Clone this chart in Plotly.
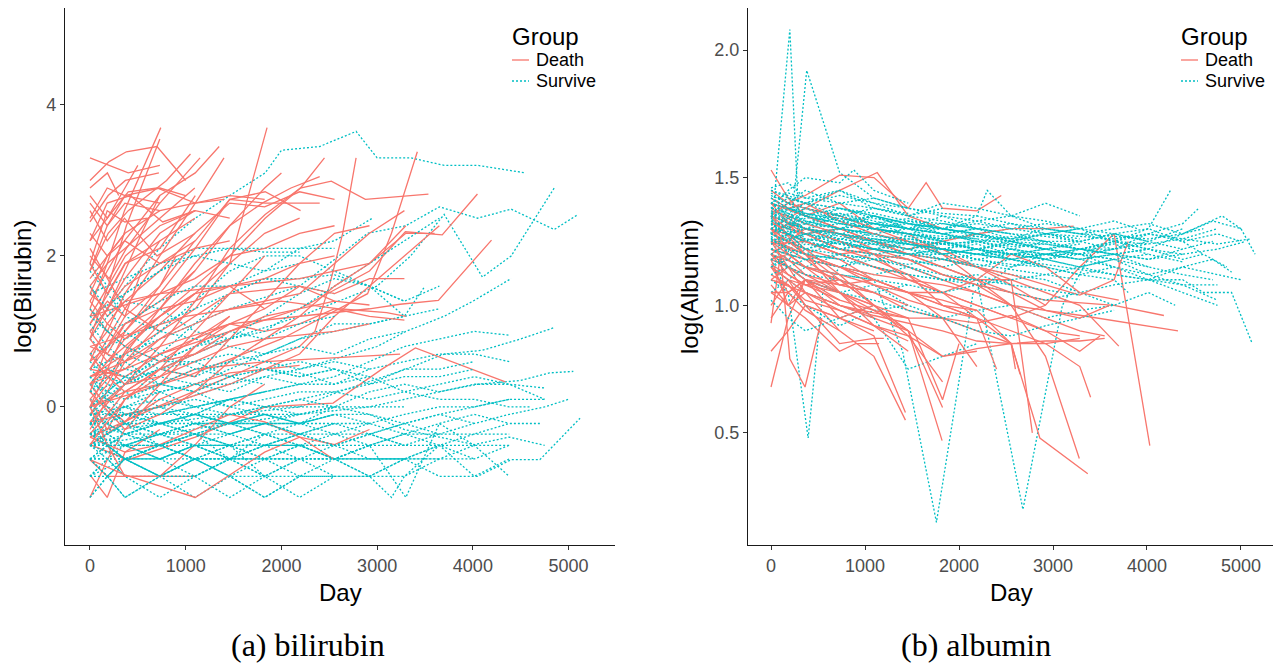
import plotly.graph_objects as go
from itertools import zip_longest

# ---------------- data (day, log value) per subject ----------------
bili_death = [
    [(0,3.3),(190,3.2),(400,3.1),(730,3.2)],
    [(0,3.0),(200,3.25),(380,3.38),(700,3.45),(1000,3.0)],
    [(0,2.45),(190,2.8),(370,3.0),(720,3.1)],
    [(0,2.8),(180,2.5),(400,2.85),(700,2.9),(1100,2.7),(1400,2.75)],
    [(0,1.3),(180,1.9),(360,2.6),(740,3.7)],
    [(0,0.9),(190,1.6),(380,2.4),(730,3.55)],
    [(0,2.2),(180,2.7),(420,2.8),(760,2.45),(1100,2.6)],
    [(0,1.8),(190,2.3),(400,2.6),(800,3.0),(1050,3.35)],
    [(0,2.0),(200,1.7),(380,2.1),(730,2.7),(1150,3.3)],
    [(0,1.4),(180,1.8),(360,2.2),(730,2.8),(1100,3.1),(1350,3.45)],
    [(0,0.5),(180,0.9),(365,1.3),(730,2.0),(1100,2.7),(1400,3.3)],
    [(0,1.1),(190,1.5),(370,1.9),(730,2.1),(1100,2.8)],
    [(0,2.6),(180,2.2),(360,2.5),(700,2.0),(1100,2.3)],
    [(0,1.6),(180,1.2),(365,1.4),(730,1.8),(1095,2.3),(1460,2.7),(1825,2.65),(2190,2.85),(2555,2.75)],
    [(0,0.3),(180,0.6),(365,0.9),(730,1.3),(1095,1.8),(1460,2.4),(1800,2.7),(2100,2.9),(2400,3.05)],
    [(0,0.1),(200,0.4),(400,0.8),(730,1.2),(1100,1.6),(1460,2.0),(1830,2.5),(2200,2.9),(2450,3.3)],
    [(0,1.0),(180,1.3),(365,1.6),(730,1.9),(1100,2.2),(1460,2.75),(1830,2.7),(2200,2.7),(2400,2.7)],
    [(0,0.4),(365,0.7),(730,1.0),(1100,1.3),(1460,1.9),(1850,3.7)],
    [(0,0.6),(365,1.0),(730,1.5),(1100,2.1),(1460,2.75),(1830,2.85),(2200,2.6)],
    [(0,-0.2),(365,0.3),(730,0.8),(1100,1.4),(1460,2.1),(1830,2.55),(2197,2.9),(2521,2.99),(2877,2.75),(3536,2.82)],
    [(0,-0.4),(700,0.0),(1460,0.4),(2190,0.8),(2350,1.0),(2500,1.6),(2640,2.3),(2780,3.3)],
    [(0,0.0),(1000,0.4),(2000,0.9),(2900,1.5),(3150,2.3),(3420,3.38)],
    [(0,0.3),(730,0.7),(1460,1.0),(2190,1.3),(2920,1.8),(3295,2.32),(3680,2.28),(4048,2.82)],
    [(0,0.4),(730,0.8),(1460,1.1),(2190,1.2),(2920,1.3),(3240,1.36),(3640,1.41),(4195,2.21)],
    [(0,-0.5),(400,-0.7),(1100,-0.4),(1830,0.0),(2540,0.05),(3050,0.5),(3400,0.78),(4340,0.33)],
    [(0,1.2),(730,1.5),(1460,1.6),(2190,1.7),(2920,1.9),(3300,2.3),(3600,2.3)],
    [(0,0.8),(1000,1.2),(2000,1.4),(2600,1.3),(3100,1.25),(3300,1.2)],
    [(0,0.0),(365,0.2),(730,0.3),(1100,0.5),(1830,0.6),(2555,0.65),(3240,0.7)],
    [(0,-0.9),(180,-1.2),(365,-0.6),(730,-0.3)],
    [(0,-1.2),(180,-0.7),(365,-0.3),(730,0.2)],
    [(0,0.7),(180,1.0),(365,1.5),(730,2.2)],
    [(0,2.1),(180,1.7),(365,1.3),(730,1.0)],
    [(0,1.8),(180,2.4),(365,2.8),(730,2.9),(1000,2.8)],
    [(0,1.5),(180,1.3),(365,1.7),(730,2.3),(1095,2.6)],
    [(0,0.3),(180,0.0),(365,-0.2),(730,0.3),(1100,0.8),(1460,1.2)],
    [(0,0.9),(180,0.6),(365,0.8),(730,1.2),(1095,1.5),(1460,1.6),(1825,1.3),(2190,1.6),(2555,1.4)],
    [(0,0.5),(365,0.4),(730,0.7),(1095,0.9),(1460,1.1),(1825,1.0),(2190,1.1),(2555,1.3),(2920,1.2),(3285,1.15)],
    [(0,-0.5),(365,-0.2),(730,0.1),(1095,0.3),(1460,0.45),(1825,0.5),(2190,0.55)],
    [(0,1.2),(190,1.6),(370,2.0),(730,2.4),(1100,2.6),(1460,2.5)],
    [(0,-0.7),(180,-0.92),(365,-0.92),(730,-0.92),(1100,-0.5),(1460,0.0),(1825,0.3)],
    [(0,0.1),(180,-0.3),(365,0.1),(730,0.5),(1095,0.4),(1460,0.9),(1825,1.4),(2190,1.9),(2555,2.3),(2920,2.4)],
    [(0,-0.2),(730,0.0),(1460,0.3),(2190,0.7),(2555,1.2),(2920,1.6),(3285,2.0),(3650,2.4)],
    [(0,0.4),(365,0.5),(730,0.9),(1095,1.2),(1460,1.5),(1825,1.55),(2190,1.6),(2555,1.5),(2920,1.7),(3285,1.7)],
    [(0,1.7),(180,2.0),(365,2.3),(730,2.6),(1095,2.7),(1460,2.8),(1825,2.75)],
    [(0,2.5),(180,2.9),(365,2.8),(730,2.7)],
    [(0,1.9),(180,2.6),(365,2.45),(600,2.5)],
    [(0,0.0),(180,0.5),(365,1.0),(730,1.6),(1095,2.2)],
    [(0,-0.1),(180,0.2),(365,0.6),(730,1.1),(1095,1.5),(1460,1.9),(1825,2.3),(2190,2.5)],
    [(0,0.2),(365,-0.3),(730,-0.1),(1095,0.2),(1460,0.6),(1825,0.9),(2190,1.2),(2555,1.6),(2920,1.9),(3300,2.4)],
    [(0,-0.4),(365,-0.6),(730,-0.5),(1095,-0.3),(1460,-0.1),(1825,-0.2),(2190,-0.4),(2555,-0.7)],
    [(0,-0.7),(365,-0.9),(1100,-1.2),(1460,-0.9),(1825,-0.6),(2190,-0.4),(2555,-0.5),(2920,-0.3)],
    [(0,1.0),(180,0.7),(365,1.1),(730,1.4),(1095,1.8)],
    [(0,2.3),(180,2.0),(365,2.2),(730,1.9),(1095,2.1),(1460,2.2)],
    [(0,0.6),(180,1.1),(365,1.4),(730,1.5),(1095,1.7),(1460,2.0),(1825,2.1),(2190,2.3),(2555,2.4)],
    [(0,0.8),(365,0.6),(730,0.9),(1095,1.1),(1460,1.3),(1825,1.4),(2190,1.5),(2555,1.9),(2920,2.3),(3285,2.6)],
    [(0,1.3),(180,1.0),(365,0.8),(730,0.6),(1095,0.9),(1460,1.2)],
    [(0,-0.3),(180,0.1),(365,0.3),(730,0.4),(1095,0.6),(1460,0.8),(1825,0.9),(2190,0.95),(2555,1.0),(2920,1.1)],
    [(0,2.7),(180,2.4),(365,2.7),(730,2.6)],
    [(0,0.0),(180,-0.5),(365,-0.92),(730,-0.92),(1095,-0.92)],
    [(0,1.5),(182,2.0),(365,2.3)],
    [(0,1.1),(182,1.4),(365,1.2),(540,1.8)],
    [(0,0.2),(182,0.8),(365,1.2),(730,1.6),(900,2.0)],
    [(0,2.9),(182,3.1),(300,2.8)],
    [(0,1.9),(182,1.5),(365,1.9),(730,2.2),(1095,2.5)],
    [(0,0.9),(182,1.3),(365,1.8),(540,2.3),(730,2.8)],
    [(0,0.7),(182,0.4),(365,0.2),(730,0.5),(1095,1.0),(1460,1.5),(1825,2.0)],
    [(0,0.0),(182,0.3),(365,0.7),(730,1.3),(1095,1.9),(1460,2.4),(1825,2.9),(2000,3.1)],
    [(0,-0.36),(182,-0.1),(365,0.2),(730,0.5),(1095,0.7),(1460,1.0),(1825,1.2),(2190,1.3),(2555,1.4),(2920,1.35)],
    [(0,0.5),(182,0.8),(365,1.1),(730,1.3),(1095,1.4),(1460,1.6),(1825,1.7),(2190,1.9),(2555,2.0)],
    [(0,1.4),(182,1.1),(365,0.9),(730,1.2),(1095,1.5)],
    [(0,2.2),(182,2.5),(365,2.9),(500,3.2)],
    [(0,0.3),(182,0.5),(365,0.3),(730,0.6),(1095,0.7),(1460,0.9)],
    [(0,-0.5),(182,-0.2),(365,0.1),(730,0.4),(1095,0.8),(1460,1.1),(1825,1.3)],
    [(0,1.6),(182,1.9),(365,2.1),(730,2.5),(1095,2.9)],
]

bili_survive = [
    [(0,1.0),(180,1.3),(365,1.6),(730,2.1),(1100,2.5),(1460,2.8),(1830,3.1),(2000,3.4),(2400,3.45),(2780,3.65),(3000,3.3),(3350,3.3),(3700,3.2),(4050,3.2),(4550,3.1)],
    [(0,0.5),(730,0.9),(1460,1.3),(2190,1.6),(2500,1.9),(2900,2.3),(3300,2.4),(3650,2.65),(4050,2.5),(4400,2.62),(4850,2.35),(5100,2.55)],
    [(0,0.2),(730,0.5),(1460,0.9),(2190,1.2),(3000,1.6),(3350,2.0),(3700,2.55),(4100,1.72),(4400,2.0),(4850,2.9)],
    [(0,-0.22),(730,0.0),(1460,0.3),(2190,0.5),(3000,0.8),(3300,1.0),(3700,1.2),(4000,1.4),(4400,1.7)],
    [(0,-0.36),(730,-0.22),(1460,-0.1),(2190,0.0),(2600,0.2),(3300,0.5),(3700,0.7),(4100,0.75),(4500,0.9),(4850,1.05)],
    [(0,-0.51),(730,-0.36),(1460,-0.22),(2190,-0.1),(2920,0.0),(3650,0.2),(4050,0.3),(4500,0.35),(4800,0.45),(5050,0.47)],
    [(0,-0.69),(365,-0.69),(730,-0.51),(1095,-0.69),(1460,-0.69),(1825,-0.69),(2190,-0.51),(2555,-0.69),(2920,-0.69),(3285,-0.69),(3650,-0.92),(4050,-0.92),(4400,-0.7),(4700,-0.7),(5120,-0.15)],
    [(0,-0.69),(365,-0.69),(730,-0.69),(1095,-0.69),(1460,-0.69),(1825,-0.69),(2190,-0.69),(2555,-0.69),(2920,-0.69),(3285,-0.69)],
    [(0,-0.51),(365,-0.51),(730,-0.36),(1095,-0.51),(1460,-0.51),(1825,-0.51),(2190,-0.51),(2555,-0.51)],
    [(0,-0.36),(365,-0.22),(730,-0.36),(1095,-0.22),(1460,-0.22),(1825,-0.22),(2190,-0.22),(2555,-0.1),(2920,-0.22)],
    [(0,-0.1),(365,0.0),(730,-0.1),(1095,0.0),(1460,0.1),(1825,0.0),(2190,0.0),(2555,0.0),(2920,0.0),(3285,0.0)],
    [(0,-0.92),(182,-0.69),(365,-0.92),(730,-0.92),(1095,-0.69),(1460,-0.92),(1825,-0.92),(2190,-0.92),(2555,-0.92)],
    [(0,-1.2),(182,-0.92),(365,-1.2),(730,-0.92),(1095,-0.69)],
    [(0,0.5),(182,0.3),(365,0.2),(730,0.0),(1095,-0.1),(1460,0.1),(1825,0.2)],
    [(0,1.9),(182,1.6),(365,1.4),(730,1.3),(1095,1.0),(1460,0.9)],
    [(0,0.9),(182,0.7),(365,0.5),(730,0.4),(1095,0.3),(1460,0.3),(1825,0.5),(2190,0.6),(2555,0.5)],
    [(0,1.2),(365,1.5),(730,1.8),(1095,2.0),(1460,2.1),(1825,2.1),(2190,2.1),(2555,2.2),(2950,2.5)],
    [(0,0.3),(365,0.6),(730,1.0),(1095,1.4),(1460,1.8),(1825,2.0),(2190,2.0),(2555,1.8),(2920,1.6),(3285,1.2),(3500,1.6)],
    [(0,0.0),(365,0.3),(730,0.7),(1095,1.1),(1460,1.5),(1825,1.7),(2190,1.7),(2555,1.75),(2920,1.6),(3285,1.4)],
    [(0,-0.22),(365,0.0),(730,0.2),(1095,0.3),(1460,0.5),(1825,0.7),(2190,0.9),(2555,1.1),(2920,1.1),(3285,1.2),(3650,1.3)],
    [(0,-0.51),(365,-0.36),(730,-0.22),(1095,-0.1),(1460,0.1),(1825,0.2),(2190,0.3),(2555,0.3),(2920,0.5),(3285,0.6),(3650,0.7),(4015,0.7),(4380,0.6)],
    [(0,-0.36),(365,-0.51),(730,-0.36),(1095,-0.22),(1460,-0.36),(1825,-0.22),(2190,-0.1),(2555,0.0),(2920,0.2),(3285,0.3),(3650,0.2),(4015,0.3),(4380,0.3),(4750,0.25)],
    [(0,-0.69),(365,-0.51),(730,-0.69),(1095,-0.51),(1460,-0.36),(1825,-0.51),(2190,-0.36),(2555,-0.22),(2920,-0.36),(3285,-0.22),(3650,-0.36),(4015,-0.22),(4380,-0.1),(4750,0.0),(5000,0.1)],
    [(0,-0.22),(365,-0.36),(730,-0.22),(1095,-0.36),(1460,-0.22),(1825,-0.36),(2190,-0.51),(2555,-0.36),(2920,-0.51),(3285,-0.36),(3650,-0.51),(4015,-0.36),(4380,-0.22),(4700,-0.22)],
    [(0,0.1),(365,-0.1),(730,0.0),(1095,-0.22),(1460,-0.1),(1825,0.0),(2190,0.1),(2555,0.2),(2920,0.1),(3285,0.2),(3650,0.1),(4015,0.1),(4380,0.0),(4600,0.0)],
    [(0,-0.92),(365,-0.69),(730,-0.92),(1095,-0.69),(1460,-0.92),(1825,-0.69),(2190,-0.92),(2555,-0.92),(2920,-0.92),(3285,-0.69),(3650,-0.51),(4015,-0.92),(4380,-0.69)],
    [(0,-0.51),(365,-0.69),(730,-0.92),(1095,-1.2),(1460,-0.92),(1825,-1.2),(2190,-0.92)],
    [(0,-0.36),(365,-0.69),(730,-0.51),(1095,-0.69),(1460,-0.51),(1825,-0.92),(2190,-0.69),(2555,-0.92),(2920,-0.92),(3150,-1.2),(3285,-0.92),(3650,-0.51)],
    [(0,-0.1),(365,-0.36),(730,-0.51),(1095,-0.36),(1460,-0.69),(1825,-0.36),(2190,-0.51),(2555,-0.69),(2920,-0.51),(3300,-1.2),(3650,-0.22),(4015,-0.51),(4380,-0.92)],
    [(0,0.2),(365,0.0),(730,-0.22),(1095,-0.1),(1460,-0.22),(1825,-0.1),(2190,-0.22),(2555,0.0),(2920,-0.1),(3285,-0.3),(3650,-0.4),(4015,-0.5),(4380,-0.4),(4750,-0.51)],
    [(0,0.5),(365,0.7),(730,0.5),(1095,0.6),(1460,0.4),(1825,0.5),(2190,0.4),(2555,0.5),(2920,0.3),(3285,0.5),(3650,0.5),(4015,0.6)],
    [(0,0.7),(365,0.9),(730,1.1),(1095,1.3),(1460,1.5),(1825,1.7),(2190,1.6),(2555,1.5)],
    [(0,1.5),(365,1.7),(730,1.9),(1095,2.0),(1460,1.9),(1825,1.8),(2190,1.9)],
    [(0,1.8),(182,1.5),(365,1.2),(730,1.0),(1095,0.9),(1460,0.8),(1825,0.7),(2190,0.9),(2555,1.0),(2920,1.1),(3285,1.2)],
    [(0,-0.1),(182,0.2),(365,0.4),(730,0.3),(1095,0.5),(1460,0.6),(1825,0.5),(2190,0.4),(2555,0.5),(2920,0.4)],
    [(0,-0.22),(182,-0.51),(365,-0.36),(730,-0.51),(1095,-0.36),(1460,-0.51),(1825,-0.36)],
    [(0,-0.51),(182,-0.69),(365,-0.92),(730,-1.2),(1095,-0.92),(1460,-0.69),(1825,-0.92),(2190,-1.2),(2555,-0.92)],
    [(0,0.0),(182,-0.22),(365,-0.1),(730,-0.22),(1095,-0.36),(1460,-0.22),(1825,-0.36),(2190,-0.22),(2555,-0.36),(2920,-0.22),(3285,-0.36),(3650,-0.22),(4015,-0.1),(4380,-0.22)],
    [(0,0.4),(182,0.2),(365,0.1),(730,0.2),(1095,0.0),(1460,0.1),(1825,0.0),(2190,-0.1),(2555,0.0)],
    [(0,-0.69),(182,-0.92),(365,-0.69),(730,-0.69),(1095,-0.92),(1460,-0.69)],
    [(0,-0.36),(182,-0.36),(365,-0.51),(730,-0.36),(1095,-0.36),(1460,-0.51),(1825,-0.36),(2190,-0.36),(2555,-0.36),(2920,-0.36),(3285,-0.51)],
    [(0,-0.92),(182,-0.69),(365,-0.51),(730,-0.69),(1095,-0.51),(1460,-0.69),(1825,-0.51),(2190,-0.51),(2555,-0.69),(2920,-0.51)],
    [(0,0.9),(182,1.2),(365,1.5),(730,1.8),(1095,2.1),(1460,2.1),(1825,2.05),(2190,2.05)],
    [(0,-0.1),(365,0.3),(730,0.6),(1095,0.8),(1460,0.9),(1825,1.0),(2190,1.3),(2555,1.6),(2920,1.9),(3285,2.2),(3650,2.5)],
    [(0,1.1),(182,0.8),(365,0.6),(730,0.3),(1095,0.2),(1460,0.0),(1825,-0.1)],
    [(0,-0.22),(182,0.0),(365,-0.22),(730,-0.36),(1095,-0.51),(1460,-0.69),(1825,-0.51),(2190,-0.69),(2555,-0.69),(2920,-0.69),(3285,-0.69),(3650,-0.69),(4015,-0.51),(4380,-0.51)],
    [(0,-0.51),(182,-0.36),(365,-0.22),(730,-0.1),(1095,0.0),(1460,0.1),(1825,0.2),(2190,0.3),(2555,0.4),(2920,0.6),(3285,0.8),(3650,0.9),(4015,1.0),(4380,0.95)],
    [(0,0.3),(365,0.1),(730,0.3),(1095,0.2),(1460,0.4),(1825,0.5),(2190,0.45),(2555,0.3),(2920,0.4),(3285,0.2),(3650,0.3),(4015,0.4),(4380,0.3),(4750,0.1)],
    [(0,-1.2),(182,-0.92),(365,-0.69),(730,-0.69),(1095,-0.51),(1460,-0.69),(1825,-0.51),(2190,-0.36),(2555,-0.51),(2920,-0.36),(3285,-0.22),(3650,-0.1),(4015,0.0),(4380,0.1)],
    [(0,1.6),(182,1.3),(365,1.0),(730,0.7),(1095,0.5),(1460,0.4),(1825,0.3)],
    [(0,0.6),(182,0.4),(365,0.3),(730,0.5),(1095,0.7),(1460,0.9),(1825,1.2),(2190,1.5),(2555,1.7),(2920,1.6),(3285,1.4),(3650,1.6)],
    [(0,-0.36),(182,-0.1),(365,-0.22),(730,-0.22),(1095,-0.22),(1460,-0.22),(1825,-0.22),(2190,-0.22),(2555,-0.22)],
    [(0,-0.1),(182,-0.1),(365,-0.1),(730,-0.1),(1095,-0.1),(1460,-0.1),(1825,-0.1),(2190,-0.1)],
    [(0,-0.69),(182,-0.51),(365,-0.69),(730,-0.92),(1095,-0.69),(1460,-0.92),(1825,-1.2),(2190,-0.92),(2555,-0.69),(2920,-0.92),(3285,-0.69),(3650,-0.51),(4015,-0.69)],
    [(0,0.0),(182,0.2),(365,0.4),(730,0.6),(1095,0.8),(1460,1.0),(1825,0.9),(2190,1.1),(2555,1.2)],
    [(0,1.3),(182,1.0),(365,1.1),(730,1.4),(1095,1.6),(1460,1.6),(1825,1.8),(2190,2.1),(2555,2.1)],
    [(0,-0.51),(365,-0.51),(730,-0.51),(1095,-0.51),(1460,-0.51),(1825,-0.51),(2190,-0.51),(2555,-0.51),(2920,-0.51),(3285,-0.51),(3650,-0.51),(4015,-0.51)],
    [(0,-0.36),(182,-0.51),(365,-0.36),(730,-0.36),(1095,-0.22),(1460,-0.36),(1825,-0.22),(2190,-0.36)],
    [(0,-0.69),(182,-0.51),(365,-0.51),(730,-0.69),(1095,-0.51),(1460,-0.51),(1825,-0.69),(2190,-0.69),(2555,-0.51),(2920,-0.69),(3285,-0.69),(3650,-0.69)],
    [(0,0.0),(182,-0.1),(365,0.0),(730,0.1),(1095,0.0),(1460,-0.1),(1825,0.0),(2190,0.1),(2555,0.0)],
    [(0,-0.22),(182,-0.22),(365,-0.36),(730,-0.22),(1095,-0.1),(1460,-0.22),(1825,-0.1),(2190,-0.22),(2555,-0.1),(2920,-0.1),(3285,-0.22),(3650,-0.1),(4015,-0.22)],
    [(0,-0.92),(182,-0.92),(365,-0.69),(730,-0.92),(1095,-0.92),(1460,-0.69),(1825,-0.69),(2190,-0.69)],
    [(0,0.2),(182,0.4),(365,0.3),(730,0.5),(1095,0.4),(1460,0.6),(1825,0.7),(2190,0.8),(2555,0.7),(2920,0.9),(3285,1.0)],
    [(0,-0.51),(182,-0.36),(365,-0.51),(730,-0.51),(1095,-0.36),(1460,-0.36),(1825,-0.22),(2190,-0.36),(2555,-0.22),(2920,-0.22),(3285,-0.1),(3650,0.0),(4015,0.0),(4380,0.1),(4750,0.1)],
    [(0,0.7),(182,0.5),(365,0.4),(730,0.2),(1095,0.3),(1460,0.2),(1825,0.4),(2190,0.3)],
    [(0,-0.1),(182,-0.36),(365,-0.22),(730,-0.51),(1095,-0.36),(1460,-0.51),(1825,-0.69),(2190,-0.51),(2555,-0.69),(2920,-0.51),(3285,-0.36),(3650,-0.36)],
    [(0,-0.69),(182,-0.92),(365,-1.2),(730,-0.92),(1095,-0.92),(1460,-1.2),(1825,-0.92)],
    [(0,1.2),(182,1.0),(365,0.8),(730,0.6),(1095,0.6),(1460,0.7),(1825,0.6),(2190,0.5),(2555,0.6),(2920,0.5)],
    [(0,-0.36),(182,-0.22),(365,-0.1),(730,0.0),(1095,0.1),(1460,0.0),(1825,0.1),(2190,0.2),(2555,0.2),(2920,0.3),(3285,0.4),(3650,0.4),(4015,0.5)],
    [(0,-0.51),(182,-0.51),(365,-0.69),(730,-0.51),(1095,-0.69),(1460,-0.51),(1825,-0.51),(2190,-0.36),(2555,-0.51),(2920,-0.36),(3285,-0.51),(3650,-0.36),(4015,-0.36),(4380,-0.36)],
    [(0,0.4),(182,0.1),(365,-0.1),(730,-0.22),(1095,-0.1),(1460,-0.22),(1825,-0.1),(2190,-0.22),(2555,-0.1)],
    [(0,-0.22),(182,-0.51),(365,-0.69),(730,-0.51),(1095,-0.69),(1460,-0.69),(1825,-0.92),(2190,-0.69),(2555,-0.69),(2920,-0.92),(3285,-0.92),(3650,-0.69),(4015,-0.69),(4380,-0.51)],
]

alb_death = [
    [(0,1.53),(182,1.42),(365,1.35),(730,1.3)],
    [(0,0.68),(182,0.95),(365,1.1),(730,1.05)],
    [(0,0.82),(182,0.9),(365,1.0),(730,0.95),(1095,0.9)],
    [(0,0.93),(100,1.2),(200,0.79),(362,0.68),(540,0.95)],
    [(0,1.35),(182,1.4),(365,1.43),(730,1.51),(1095,1.5),(1460,1.38),(1650,1.48),(1825,1.38),(2190,1.37),(2450,1.43)],
    [(0,1.3),(365,1.38),(730,1.45),(1130,1.52),(1460,1.35),(1825,1.3)],
    [(0,1.4),(365,1.35),(730,1.4),(1095,1.3),(1460,1.28),(1825,1.2),(2190,1.1),(2555,1.0),(2920,0.8),(3280,0.4)],
    [(0,1.25),(365,1.2),(730,1.1),(1095,1.0),(1460,0.9),(1820,0.47)],
    [(0,1.2),(365,1.15),(730,1.05),(1095,0.95),(1460,0.9),(1825,0.8),(2190,0.83),(2555,0.85),(2860,0.48),(3370,0.34)],
    [(0,1.3),(365,1.25),(730,1.2),(1095,1.15),(1460,1.1),(1825,1.05),(2190,1.0),(2555,0.95),(2920,1.0),(3285,1.15),(3650,1.28),(4030,0.45)],
    [(0,1.35),(365,1.3),(730,1.25),(1095,1.2),(1460,1.15),(1825,1.1),(2190,1.05),(2555,1.0),(2920,0.98),(3300,0.96),(4330,0.9)],
    [(0,1.4),(365,1.35),(730,1.3),(1095,1.25),(1460,1.2),(1825,1.15),(2190,1.1),(2555,1.05),(2920,1.02),(3285,1.01),(3650,1.0),(4180,0.96)],
    [(0,1.2),(365,1.1),(730,0.95),(1095,0.88),(1430,0.58)],
    [(0,1.1),(365,1.05),(730,0.9),(1095,0.8),(1430,0.55)],
    [(0,1.15),(182,1.1),(365,1.0),(730,0.85),(1095,0.87),(1200,0.87)],
    [(0,1.05),(182,1.0),(365,0.95),(730,0.82),(900,0.85),(1150,0.85)],
    [(0,1.3),(182,1.2),(365,1.15),(730,1.1),(1095,1.0),(1460,0.9),(1825,0.6)],
    [(0,1.28),(365,1.22),(730,1.18),(1095,1.1),(1460,1.05),(1825,0.95),(2190,0.76)],
    [(0,1.32),(365,1.28),(730,1.22),(1095,1.2),(1460,1.1),(1825,1.05),(2190,0.95),(2400,0.75)],
    [(0,1.22),(365,1.18),(730,1.08),(1095,1.05),(1460,0.98),(1825,0.95),(2190,0.9),(2555,0.85),(2650,0.73)],
    [(0,1.18),(365,1.12),(730,1.05),(1095,0.98),(1460,0.95),(1825,0.63),(2000,0.85)],
    [(0,1.38),(365,1.3),(730,1.28),(1095,1.22),(1460,1.2),(1825,1.15),(2190,1.1),(2555,1.1),(2780,0.5)],
    [(0,1.26),(365,1.2),(730,1.15),(1095,1.1),(1460,1.05),(1825,1.0),(2190,0.95),(2555,0.9),(2920,0.85),(3285,0.76),(3400,0.64)],
    [(0,1.24),(365,1.25),(730,1.2),(1095,1.22),(1460,1.18),(1825,1.12),(2190,1.08),(2555,1.0),(2920,0.95),(3285,0.9),(3550,0.88)],
    [(0,1.35),(182,1.3),(365,1.28),(730,1.3),(1095,1.25),(1460,1.22),(1825,1.25),(2190,1.28),(2555,1.3),(2920,1.3),(3220,1.31)],
    [(0,1.45),(182,1.4),(365,1.38),(730,1.35),(1095,1.3),(1460,1.25),(1825,1.2),(2190,1.15),(2555,1.1),(2920,1.05),(3285,1.0),(3700,0.84)],
    [(0,1.1),(182,1.15),(365,1.05),(730,1.0),(1095,0.95)],
    [(0,1.0),(182,1.1),(365,1.08),(730,1.02)],
    [(0,1.15),(182,1.05),(365,1.1),(730,1.0),(1095,0.96),(1460,0.93),(1825,0.9),(2190,0.86),(2555,0.85),(2920,0.86),(3285,0.86),(3550,0.87)],
    [(0,1.2),(182,1.25),(365,1.2),(730,1.15),(1095,1.12),(1460,1.1),(1825,1.08),(2190,1.05),(2555,1.0)],
    [(0,1.3),(182,1.22),(365,1.18),(730,1.15),(1095,1.08),(1460,1.02),(1825,0.98),(2190,0.95)],
    [(0,1.08),(182,1.0),(365,1.05),(730,0.98),(1095,0.92),(1460,0.88),(1825,0.8),(2190,0.82)],
    [(0,1.4),(182,1.32),(365,1.28),(730,1.22),(1095,1.18),(1460,1.12),(1825,1.05),(2190,1.0),(2555,0.95),(2920,0.9),(3285,0.82),(3500,0.88)],
    [(0,1.33),(182,1.28),(365,1.22),(730,1.12),(1095,1.0),(1460,0.88),(1825,0.7)],
    [(0,1.16),(182,1.12),(365,1.08),(730,1.05),(1095,1.0),(1460,0.95),(1825,0.95),(2190,0.93),(2555,0.96),(2920,0.9),(3285,0.88)],
    [(0,1.22),(182,1.18),(365,1.12),(730,1.08),(1095,1.1),(1460,1.05),(1825,1.05),(2190,1.1),(2555,1.2),(2920,1.15),(3285,1.05),(3700,1.02)],
    [(0,1.37),(182,1.35),(365,1.32),(730,1.28),(1095,1.25),(1460,1.2),(1825,1.18),(2190,1.15),(2555,1.12),(2920,1.08),(3285,1.04),(3650,1.1),(3800,1.25)],
    [(0,1.28),(182,1.32),(365,1.25),(730,1.2),(1095,1.15),(1460,1.12),(1825,1.0),(2190,0.98),(2555,0.85),(2600,0.75)],
    [(0,1.12),(182,1.08),(365,1.0),(730,0.95),(1095,1.0)],
    [(0,1.25),(182,1.2),(365,1.15),(730,1.12),(1095,1.08),(1460,1.05),(1825,1.0),(2190,0.95),(2555,0.85),(2920,0.85),(3285,0.87)],
    [(0,1.35),(182,1.27),(365,1.2),(730,1.05),(1095,0.92),(1460,0.82)],
    [(0,1.42),(182,1.38),(365,1.4),(730,1.33),(1095,1.28),(1460,1.25),(1825,1.22),(2190,1.15),(2555,1.08),(2920,1.0)],
    [(0,1.18),(182,1.0),(365,1.1),(730,1.02),(1095,0.98),(1460,0.9)],
    [(0,0.95),(182,1.05),(365,0.98),(730,0.9)],
    [(0,1.3),(182,1.25),(365,1.3),(730,1.25),(1095,1.2),(1460,1.18),(1825,1.12),(2190,1.08),(2555,1.05),(2920,0.98),(3285,0.95),(3600,1.0)],
    [(0,1.15),(182,1.1),(365,1.05),(730,1.0),(1095,0.97),(1460,0.95)],
    [(0,1.25),(182,1.15),(365,1.1),(730,1.08),(1095,1.05)],
    [(0,1.1),(182,1.08),(365,1.02),(730,0.98),(1095,0.92),(1460,0.86)],
    [(0,1.3),(182,1.25),(365,1.2),(730,1.15),(1095,1.1),(1460,1.05),(1825,1.02),(2190,0.98)],
    [(0,1.2),(182,1.12),(365,1.08),(730,1.1),(1095,1.05),(1460,1.0)],
    [(0,1.18),(182,1.2),(365,1.15),(730,1.1)],
    [(0,1.05),(182,1.05),(365,1.1),(730,1.05),(1095,1.0)],
]

alb_survive = [
    [(0,1.28),(200,2.08),(300,1.3),(365,1.25),(730,1.3),(1095,1.28)],
    [(0,1.35),(182,1.2),(380,1.92),(730,1.52),(1095,1.42),(1460,1.38)],
    [(0,1.18),(182,1.05),(395,0.48),(550,1.05),(730,1.15),(1095,1.2)],
    [(0,1.2),(365,1.15),(730,1.12),(1095,1.1),(1400,0.82),(1760,0.15),(2150,1.05),(2555,1.15),(2920,1.18)],
    [(0,1.3),(365,1.25),(730,1.22),(1095,1.2),(1460,1.18),(1825,1.15),(2190,1.1),(2680,0.2),(3100,1.0),(3400,1.2),(3650,1.22)],
    [(0,1.3),(365,1.28),(730,1.3),(1095,1.28),(1460,1.25),(1825,1.22),(2190,1.2),(2555,1.18),(2920,1.2),(3285,1.2),(3650,1.15),(4015,1.1),(4380,1.1),(4600,1.05),(4900,1.05),(5120,0.85)],
    [(0,1.4),(365,1.35),(730,1.3),(1095,1.32),(1460,1.3),(1825,1.28),(2190,1.25),(2555,1.25),(2920,1.22),(3285,1.2),(3650,1.25),(4015,1.22),(4380,1.28),(4700,1.33),(5000,1.3),(5150,1.2)],
    [(0,1.25),(365,1.3),(730,1.35),(1095,1.3),(1460,1.28),(1825,1.25),(2190,1.28),(2555,1.25),(2920,1.28),(3285,1.25),(3650,1.28),(4015,1.3),(4250,1.45)],
    [(0,1.35),(365,1.4),(730,1.38),(1095,1.35),(1460,1.32),(1825,1.3),(2190,1.35),(2300,1.45),(2555,1.35),(2920,1.3),(3285,1.28),(3650,1.25),(4015,1.3),(4380,1.25),(4600,1.2)],
    [(0,1.3),(365,1.32),(730,1.28),(1095,1.25),(1460,1.27),(1825,1.22),(2190,1.2),(2555,1.22),(2920,1.18),(3285,1.15),(3650,1.12),(4015,1.1),(4380,1.15),(4700,1.18),(4900,1.13)],
    [(0,1.42),(182,1.38),(365,1.35),(730,1.32),(1095,1.3),(1460,1.28),(1825,1.25),(2190,1.22),(2555,1.2),(2920,1.22),(3285,1.2),(3650,1.18),(4015,1.12),(4380,1.08),(4750,1.02)],
    [(0,1.2),(182,1.15),(365,1.1),(730,1.05),(1095,1.08),(1460,1.0),(1825,0.95),(2190,0.98),(2555,1.0),(2920,0.95),(3285,0.98),(3650,1.0),(4015,1.05),(4300,1.0)],
    [(0,1.15),(182,1.1),(365,1.05),(730,1.0),(1095,0.95),(1460,0.75),(1825,0.8),(2190,0.85)],
    [(0,1.45),(182,1.42),(365,1.4),(730,1.45),(1095,1.4),(1460,1.35),(1825,1.38)],
    [(0,1.38),(182,1.45),(365,1.5),(730,1.48),(880,1.53),(1095,1.45),(1460,1.4)],
    [(0,1.33),(182,1.3),(365,1.38),(730,1.35),(1095,1.3),(1460,1.33),(1825,1.3),(2190,1.28),(2555,1.3),(2920,1.32),(3285,1.3),(3650,1.28),(4015,1.25)],
    [(0,1.22),(182,1.25),(365,1.2),(730,1.18),(1095,1.2),(1460,1.18),(1825,1.15),(2190,1.18),(2555,1.15),(2920,1.2),(3285,1.18),(3650,1.2),(4015,1.18),(4380,1.22),(4700,1.25)],
    [(0,1.27),(182,1.22),(365,1.25),(730,1.22),(1095,1.25),(1460,1.22),(1825,1.2),(2190,1.22),(2555,1.2),(2920,1.22),(3285,1.25),(3650,1.28),(4015,1.25),(4380,1.3)],
    [(0,1.36),(182,1.33),(365,1.3),(730,1.28),(1095,1.26),(1460,1.24),(1825,1.22),(2190,1.2),(2555,1.18),(2920,1.15),(3285,1.12),(3650,1.1),(3800,1.05)],
    [(0,1.4),(182,1.35),(365,1.38),(730,1.33),(1095,1.3),(1460,1.28),(1825,1.3),(2190,1.27),(2555,1.25),(2920,1.28),(3285,1.26)],
    [(0,1.3),(182,1.28),(365,1.25),(730,1.22),(1095,1.24),(1460,1.2),(1825,1.18),(2190,1.15),(2555,1.12),(2920,1.1),(3285,1.05),(3650,1.0)],
    [(0,1.25),(182,1.2),(365,1.18),(730,1.15),(1095,1.12),(1460,1.15),(1825,1.1),(2190,1.12),(2555,1.08)],
    [(0,1.1),(182,1.05),(365,1.0),(730,0.92),(1095,0.98),(1460,1.0)],
    [(0,1.02),(182,0.95),(365,0.9),(730,0.95),(1095,1.0)],
    [(0,1.44),(182,1.4),(365,1.45),(730,1.4),(1095,1.38),(1460,1.35),(1825,1.33),(2190,1.3),(2555,1.32),(2920,1.28),(3285,1.3),(3650,1.33),(3900,1.3)],
    [(0,1.32),(182,1.36),(365,1.33),(730,1.3),(1095,1.35),(1460,1.3),(1825,1.28),(2190,1.3),(2555,1.26),(2920,1.3),(3285,1.28),(3650,1.3),(4015,1.32),(4380,1.28),(4800,1.35),(5000,1.3)],
    [(0,1.18),(182,1.22),(365,1.2),(730,1.25),(1095,1.22),(1460,1.2),(1825,1.22),(2190,1.18),(2555,1.2),(2920,1.18),(3285,1.15),(3650,1.18),(4015,1.15)],
    [(0,1.28),(182,1.3),(365,1.33),(730,1.3),(1095,1.28),(1460,1.3),(1825,1.25),(2190,1.22),(2555,1.25),(2920,1.22)],
    [(0,1.36),(182,1.4),(365,1.38),(730,1.35),(1095,1.38),(1460,1.35),(1825,1.4),(2190,1.38),(2555,1.35),(2920,1.33),(3285,1.3)],
    [(0,1.22),(182,1.18),(365,1.15),(730,1.2),(1095,1.15),(1460,1.12),(1825,1.1),(2190,1.08),(2555,1.05),(2920,1.02),(3285,1.05),(3650,1.08),(4015,1.1),(4380,1.08),(4750,1.08)],
    [(0,1.3),(182,1.26),(365,1.28),(730,1.25),(1095,1.22),(1460,1.25),(1825,1.2),(2190,1.22),(2555,1.2),(2920,1.18),(3285,1.22),(3650,1.2),(4015,1.22),(4380,1.18),(4600,1.2),(4850,1.15)],
    [(0,1.4),(182,1.36),(365,1.32),(730,1.36),(1095,1.32),(1460,1.3),(1825,1.35),(2190,1.3)],
    [(0,1.26),(182,1.32),(365,1.3),(730,1.32),(1095,1.3),(1460,1.32),(1825,1.28),(2190,1.3),(2555,1.28),(2920,1.25),(3285,1.25),(3650,1.22),(4015,1.25),(4380,1.22)],
    [(0,1.15),(182,1.2),(365,1.18),(730,1.15),(1095,1.18),(1460,1.15),(1825,1.12),(2190,1.1)],
    [(0,1.05),(182,1.1),(365,1.15),(730,1.12),(1095,1.1),(1460,1.08)],
    [(0,1.34),(182,1.3),(365,1.35),(730,1.32),(1095,1.35),(1460,1.32),(1825,1.3),(2190,1.33),(2555,1.3),(2920,1.28),(3285,1.3),(3650,1.25),(4015,1.28),(4380,1.32),(4550,1.38)],
    [(0,1.38),(182,1.42),(365,1.4),(730,1.43),(1095,1.4),(1460,1.38),(1825,1.35),(2190,1.33),(2555,1.35),(2920,1.4),(3285,1.35)],
    [(0,1.24),(182,1.28),(365,1.22),(730,1.26),(1095,1.24),(1460,1.26),(1825,1.24),(2190,1.25),(2555,1.22),(2920,1.25),(3285,1.22),(3650,1.25),(4015,1.22),(4380,1.2),(4750,1.22),(5050,1.25)],
    [(0,1.2),(182,1.15),(365,1.12),(730,1.1),(1095,1.05),(1460,1.08),(1825,1.05),(2190,1.08),(2555,1.1),(2920,1.12),(3285,1.15),(3650,1.18),(4015,1.2),(4380,1.17)],
    [(0,1.46),(182,1.48),(365,1.42),(730,1.45),(1095,1.38),(1460,1.36)],
    [(0,1.32),(182,1.28),(365,1.25),(730,1.28),(1095,1.25),(1460,1.22),(1825,1.25),(2190,1.22),(2555,1.18),(2920,1.2),(3285,1.22),(3650,1.2),(4015,1.15),(4380,1.12),(4700,1.1)],
    [(0,1.28),(182,1.25),(365,1.22),(730,1.2),(1095,1.18),(1460,1.2),(1825,1.18),(2190,1.15),(2555,1.18),(2920,1.15),(3285,1.12),(3650,1.15)],
    [(0,1.12),(182,1.15),(365,1.1),(730,1.05),(1095,1.02),(1460,0.98),(1825,0.95),(2190,0.9),(2555,0.88),(2920,0.92),(3285,0.95),(3650,0.98)],
    [(0,1.36),(182,1.32),(365,1.3),(730,1.28),(1095,1.3),(1460,1.28),(1825,1.26),(2190,1.28),(2555,1.25),(2920,1.22),(3285,1.2),(3650,1.22),(4015,1.28),(4380,1.25),(4750,1.28),(5000,1.25)],
    [(0,1.3),(182,1.35),(365,1.32),(730,1.38),(1095,1.35),(1460,1.32),(1825,1.3),(2190,1.28)],
    [(0,1.4),(182,1.38),(365,1.36),(730,1.34),(1095,1.32),(1460,1.3),(1825,1.3),(2190,1.28),(2555,1.26),(2920,1.25)],
    [(0,1.35),(182,1.32),(365,1.3),(730,1.28),(1095,1.26),(1460,1.25),(1825,1.24),(2190,1.22),(2555,1.24),(2920,1.22),(3285,1.24)],
    [(0,1.3),(182,1.34),(365,1.36),(730,1.33),(1095,1.3),(1460,1.28),(1825,1.27),(2190,1.26),(2555,1.24)],
    [(0,1.25),(182,1.28),(365,1.3),(730,1.27),(1095,1.25),(1460,1.24),(1825,1.22),(2190,1.2),(2555,1.2),(2920,1.18),(3285,1.2),(3650,1.18)],
    [(0,1.43),(182,1.4),(365,1.35),(730,1.38),(1095,1.36),(1460,1.33),(1825,1.32),(2190,1.3),(2555,1.28)],
    [(0,1.38),(182,1.36),(365,1.4),(730,1.35),(1095,1.32),(1460,1.3),(1825,1.28),(2190,1.25),(2555,1.27),(2920,1.25),(3285,1.22),(3650,1.24),(4015,1.2)],
    [(0,1.2),(182,1.24),(365,1.26),(730,1.24),(1095,1.22),(1460,1.2),(1825,1.2),(2190,1.18),(2555,1.16),(2920,1.15)],
    [(0,1.33),(182,1.3),(365,1.28),(730,1.3),(1095,1.27),(1460,1.26),(1825,1.24),(2190,1.25),(2555,1.23),(2920,1.24),(3285,1.22),(3650,1.2),(4015,1.18),(4380,1.2)],
    [(0,1.28),(182,1.32),(365,1.34),(730,1.36),(1095,1.33),(1460,1.3),(1825,1.32),(2190,1.3),(2555,1.28),(2920,1.27),(3285,1.25)],
    [(0,1.36),(182,1.34),(365,1.3),(730,1.26),(1095,1.28),(1460,1.24),(1825,1.22),(2190,1.24),(2555,1.2),(2920,1.18)],
    [(0,1.22),(182,1.2),(365,1.24),(730,1.22),(1095,1.2),(1460,1.22),(1825,1.18),(2190,1.16),(2555,1.14),(2920,1.12),(3285,1.1)],
    [(0,1.45),(182,1.43),(365,1.4),(730,1.38),(1095,1.34),(1460,1.32),(1825,1.3),(2190,1.28),(2555,1.25),(2920,1.24),(3285,1.22),(3650,1.22),(4015,1.24)],
    [(0,1.3),(182,1.28),(365,1.32),(730,1.3),(1095,1.32),(1460,1.28),(1825,1.26),(2190,1.27),(2555,1.26),(2920,1.28),(3285,1.27),(3650,1.26),(4015,1.28),(4380,1.26),(4750,1.3)],
    [(0,1.18),(182,1.15),(365,1.18),(730,1.2),(1095,1.18),(1460,1.16),(1825,1.18),(2190,1.2),(2555,1.18)],
    [(0,1.34),(182,1.38),(365,1.35),(730,1.32),(1095,1.3),(1460,1.27),(1825,1.25),(2190,1.22),(2555,1.2),(2920,1.2),(3285,1.18),(3650,1.15),(4015,1.12),(4380,1.15),(4750,1.12),(5000,1.1)],
    [(0,1.26),(182,1.22),(365,1.2),(730,1.18),(1095,1.15),(1460,1.12),(1825,1.1),(2190,1.1),(2555,1.08),(2920,1.06),(3285,1.04)],
    [(0,1.4),(182,1.44),(365,1.42),(730,1.4),(1095,1.42),(1460,1.38),(1825,1.36),(2190,1.35),(2555,1.32),(2920,1.3),(3285,1.28),(3650,1.27),(4015,1.26),(4380,1.28),(4600,1.3)],
    [(0,1.32),(182,1.28),(365,1.26),(730,1.24),(1095,1.22),(1460,1.24),(1825,1.22),(2190,1.2),(2555,1.22),(2920,1.2),(3285,1.18),(3650,1.2),(4015,1.22)],
    [(0,1.24),(182,1.26),(365,1.28),(730,1.26),(1095,1.24),(1460,1.22),(1825,1.24),(2190,1.22),(2555,1.24),(2920,1.22)],
    [(0,1.37),(182,1.35),(365,1.32),(730,1.34),(1095,1.32),(1460,1.34),(1825,1.3),(2190,1.32),(2555,1.3)],
    [(0,1.15),(182,1.18),(365,1.22),(730,1.25),(1095,1.22),(1460,1.2),(1825,1.22),(2190,1.25),(2555,1.22),(2920,1.2),(3285,1.22),(3650,1.25),(4015,1.24),(4380,1.26),(4750,1.24),(5100,1.26)],
    [(0,1.42),(182,1.38),(365,1.36),(730,1.33),(1095,1.35),(1460,1.3),(1825,1.28),(2190,1.26)],
    [(0,1.28),(182,1.25),(365,1.28),(730,1.24),(1095,1.26),(1460,1.24),(1825,1.2),(2190,1.22),(2555,1.18),(2920,1.16),(3285,1.14),(3650,1.12),(4015,1.1),(4380,1.05),(4750,1.0)],
]

day_ticks = [0, 1000, 2000, 3000, 4000, 5000]
bili_ticks = [0, 2, 4]
alb_ticks = [0.5, 1.0, 1.5, 2.0]
groups = ["Death", "Survive"]
captions = ["(a) bilirubin", "(b) albumin"]

# ---------------- styling ----------------
W, H = 1281, 666
OFF = 8  # default page margin of the html body
FW, FH = W - OFF, H - OFF
RED, CYAN = "#F8766D", "#00BFC4"
LW = 1.3
SANS = "Liberation Sans, Arial, sans-serif"
SERIF = "Liberation Serif, Times New Roman, serif"

def px(x):
    return (x - OFF) / FW

def py(y):
    return 1 - (y - OFF) / FH

fig = go.Figure()

def add_panel(death, survive, xa, ya):
    for d, s in zip_longest(death, survive):
        for traj, col, dash in ((d, RED, "solid"), (s, CYAN, "2px,2px")):
            if traj is None:
                continue
            fig.add_trace(go.Scatter(
                x=[p[0] for p in traj], y=[p[1] for p in traj],
                mode="lines", xaxis=xa, yaxis=ya, showlegend=False,
                hoverinfo="skip",
                line=dict(color=col, width=LW, dash=dash)))

add_panel(bili_death, bili_survive, "x", "y")
add_panel(alb_death, alb_survive, "x2", "y2")

axis_common = dict(showgrid=False, zeroline=False, showline=True, linecolor="#1a1a1a",
                   linewidth=1.2, ticks="outside", ticklen=4, tickwidth=1,
                   tickcolor="#333333", tickfont=dict(family=SANS, size=18, color="#4D4D4D"))

fig.update_layout(
    width=FW, height=FH, margin=dict(l=0, r=0, t=0, b=0),
    paper_bgcolor="white", plot_bgcolor="white", showlegend=False,
    xaxis=dict(domain=[px(65), px(615)], anchor="y", range=[-261, 5485],
               tickvals=day_ticks, **axis_common),
    yaxis=dict(domain=[py(545), py(8)], anchor="x", range=[-1.83, 5.285],
               tickvals=bili_ticks, **axis_common),
    xaxis2=dict(domain=[px(748), px(1275)], anchor="y2", range=[-245, 5362],
                tickvals=day_ticks, **axis_common),
    yaxis2=dict(domain=[py(545), py(8)], anchor="x2", range=[0.061, 2.1645],
                tickvals=alb_ticks, tickformat=".1f", **axis_common),
)

ann = []
shapes = []
# axis titles
for cx, ylab, ycx in ((340, "log(Bilirubin)", 22), (1011, "log(Albumin)", 689)):
    ann.append(dict(x=px(cx), y=py(592), xref="paper", yref="paper", text="Day",
                    showarrow=False, xanchor="center", yanchor="middle",
                    font=dict(family=SANS, size=24, color="black")))
    ann.append(dict(x=px(ycx), y=py(287), xref="paper", yref="paper", text=ylab,
                    showarrow=False, textangle=-90, xanchor="center", yanchor="middle",
                    font=dict(family=SANS, size=24, color="black")))
# legends
for gx, lx0, tx in ((510, 512, 534), (1179, 1181, 1203)):
    ann.append(dict(x=px(gx), y=py(37), xref="paper", yref="paper", text="Group",
                    showarrow=False, xanchor="left", yanchor="middle",
                    font=dict(family=SANS, size=24, color="black")))
    for gname, yy, col, dash in ((groups[0], 60, RED, "solid"), (groups[1], 81, CYAN, "2px,2px")):
        shapes.append(dict(type="line", xref="paper", yref="paper",
                           x0=px(lx0), x1=px(lx0 + 17), y0=py(yy), y1=py(yy),
                           line=dict(color=col, width=LW, dash=dash)))
        ann.append(dict(x=px(tx), y=py(yy), xref="paper", yref="paper", text=gname,
                        showarrow=False, xanchor="left", yanchor="middle",
                        font=dict(family=SANS, size=18, color="black")))
# captions
for cx, cap in ((308, captions[0]), (976, captions[1])):
    ann.append(dict(x=px(cx), y=py(645), xref="paper", yref="paper", text=cap,
                    showarrow=False, xanchor="center", yanchor="middle",
                    font=dict(family=SERIF, size=32, color="black")))

fig.update_layout(annotations=ann, shapes=shapes)
fig.write_html("out.html")
